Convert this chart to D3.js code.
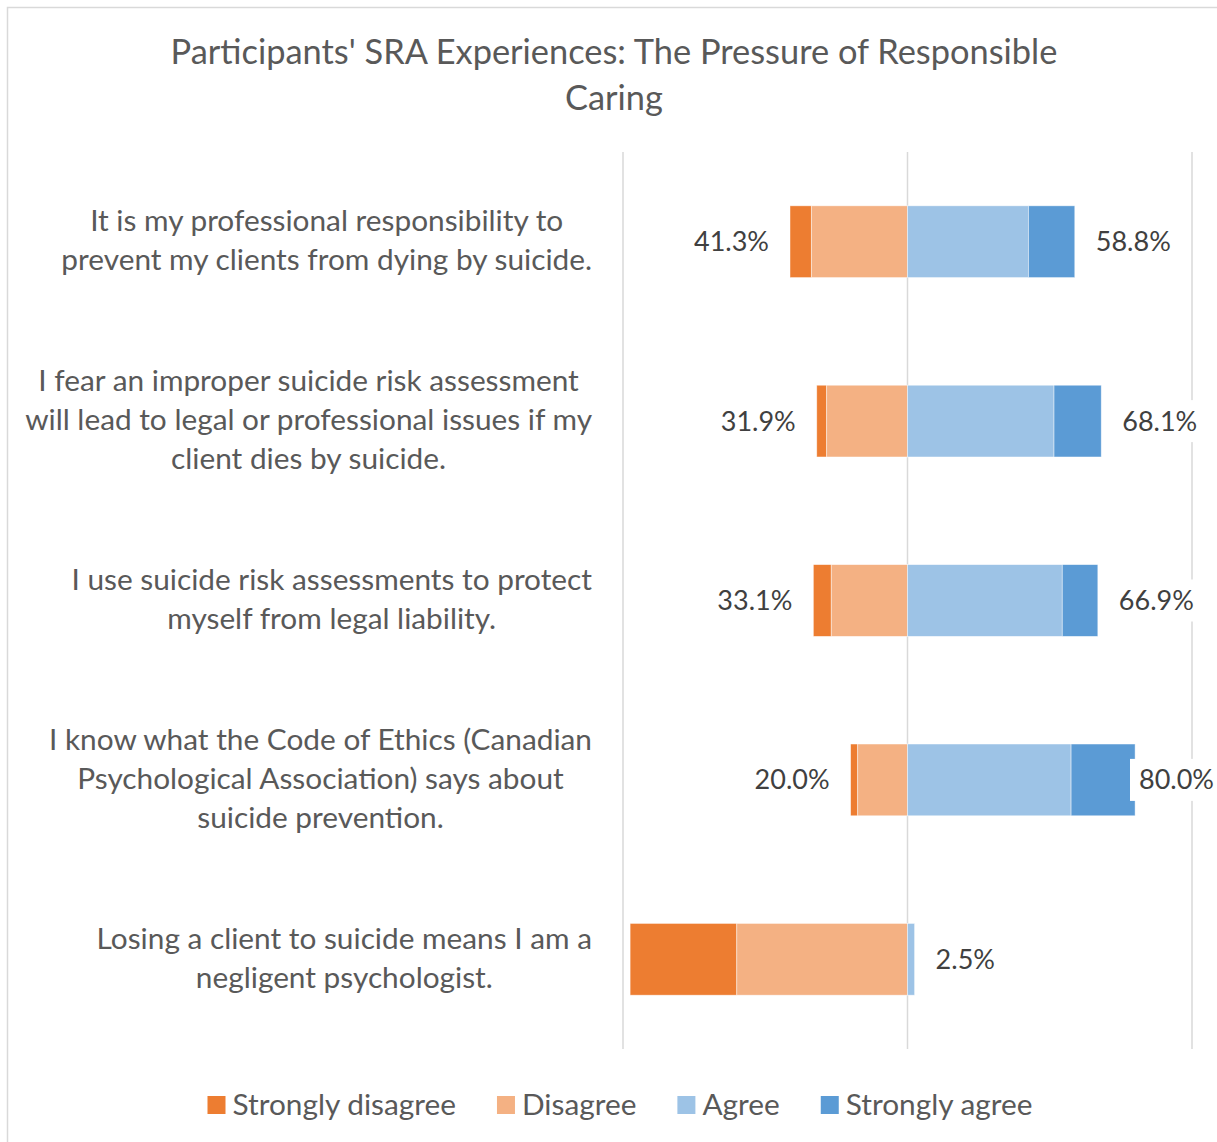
<!DOCTYPE html>
<html>
<head>
<meta charset="utf-8">
<script src="https://cdn.jsdelivr.net/npm/d3@7"></script>
<style>
  html, body { margin: 0; padding: 0; background: #fff; }
  svg { display: block; }
  text { font-family: Lato, "Open Sans", sans-serif; }
</style>
</head>
<body>
<svg id="chart" width="1217" height="1142"></svg>
<script>
// Survey statements (line breaks as they wrap on the chart)
const categories = [
  "It is my professional responsibility to\nprevent my clients from dying by suicide.",
  "I fear an improper suicide risk assessment\nwill lead to legal or professional issues if my\nclient dies by suicide.",
  "I use suicide risk assessments to protect\nmyself from legal liability.",
  "I know what the Code of Ethics (Canadian\nPsychological Association) says about\nsuicide prevention.",
  "Losing a client to suicide means I am a\nnegligent psychologist."
];

// Percent of participants per response
const stronglyDisagree = [7.5, 3.5, 6.3, 2.5, 37.5];
const disagree         = [33.8, 28.4, 26.8, 17.5, 60.0];
const agree            = [42.5, 51.5, 54.4, 57.5, 2.5];
const stronglyAgree    = [16.3, 16.6, 12.5, 22.5, 0.0];

const seriesNames = ["Strongly disagree", "Disagree", "Agree", "Strongly agree"];
const seriesColors = ["#ED7D31", "#F4B183", "#9DC3E6", "#5B9BD5"];

const titleLines = ["Participants' SRA Experiences: The Pressure of Responsible", "Caring"];
const xTicks = [-100, 0, 100];

const svg = d3.select("#chart");
const W = 1217, H = 1142;

// chart frame
svg.append("rect")
  .attr("x", 7.5).attr("y", 7.5)
  .attr("width", W + 20).attr("height", H + 20)
  .attr("fill", "#fff").attr("stroke", "#d9d9d9").attr("stroke-width", 1.5);

// title
svg.append("g").selectAll("text").data(titleLines).join("text")
  .attr("x", 614).attr("y", (d, i) => 64 + i * 46)
  .attr("text-anchor", "middle")
  .attr("font-size", 34.4).attr("fill", "#595959")
  .text(d => d);

const plot = { left: 623, right: 1192, top: 152, bottom: 1049 };

const x = d3.scaleLinear().domain([-100, 100]).range([plot.left, plot.right]);
const y = d3.scaleBand().domain(d3.range(categories.length))
  .range([plot.top, plot.bottom]).paddingInner(0.6).paddingOuter(0.3);

// vertical gridlines
svg.append("g").selectAll("line").data(xTicks).join("line")
  .attr("x1", d => x(d)).attr("x2", d => x(d))
  .attr("y1", plot.top).attr("y2", plot.bottom)
  .attr("stroke", "#d9d9d9").attr("stroke-width", 1.5);

// build diverging segments: disagree side extends left from zero
const rows = categories.map((c, i) => {
  const sd = stronglyDisagree[i], d = disagree[i], a = agree[i], sa = stronglyAgree[i];
  return {
    i,
    segs: [
      { s: 0, x0: -(sd + d), x1: -d },
      { s: 1, x0: -d, x1: 0 },
      { s: 2, x0: 0, x1: a },
      { s: 3, x0: a, x1: a + sa }
    ],
    neg: sd + d,
    pos: a + sa
  };
});

const barG = svg.append("g");
rows.forEach(r => {
  barG.append("g").selectAll("rect").data(r.segs.filter(s => s.x1 > s.x0)).join("rect")
    .attr("x", s => x(s.x0))
    .attr("width", s => x(s.x1) - x(s.x0))
    .attr("y", y(r.i))
    .attr("height", y.bandwidth())
    .attr("fill", s => seriesColors[s.s])
    .attr("stroke", "#fff").attr("stroke-width", 0.75).attr("stroke-opacity", 0.6);
});

// category labels: block right-aligned, lines centred within block
const labelRight = 592, lineH = 39, catSize = 29.8;
const catG = svg.append("g");
categories.forEach((c, i) => {
  const lines = c.split("\n");
  const g = catG.append("g");
  const texts = g.selectAll("text").data(lines).join("text")
    .attr("font-size", catSize).attr("fill", "#595959")
    .attr("text-anchor", "middle")
    .text(d => d);
  let maxW = 0;
  texts.each(function () { maxW = Math.max(maxW, this.getComputedTextLength()); });
  const cy = y(i) + y.bandwidth() / 2;
  const y0 = cy - (lines.length - 1) * lineH / 2;
  texts.attr("x", labelRight - maxW / 2)
    .attr("y", (d, k) => y0 + k * lineH)
    .attr("dy", "0.3em");
});

// percentage labels at both bar ends
const fmt = v => d3.format(".1f")(v) + "%";
const lblG = svg.append("g");
const gap = 21, lblSize = 27, chartEdge = 1214;
rows.forEach(r => {
  const cy = y(r.i) + y.bandwidth() / 2;
  // left total
  const tL = lblG.append("text")
    .attr("font-size", lblSize).attr("fill", "#404040")
    .attr("text-anchor", "end").attr("dy", "0.35em")
    .attr("x", x(-r.neg) - gap).attr("y", cy)
    .text(fmt(r.neg));
  const wL = tL.node().getComputedTextLength();
  if (x(-r.neg) - gap - wL < plot.left) tL.remove();

  // right total, kept inside the chart area, on a white label box
  if (r.pos > 0) {
    const tR = lblG.append("text")
      .attr("font-size", lblSize).attr("fill", "#404040")
      .attr("dy", "0.35em").attr("y", cy)
      .text(fmt(r.pos));
    const wR = tR.node().getComputedTextLength();
    const xr = Math.min(x(r.pos) + gap, chartEdge - wR);
    tR.attr("x", xr);
    lblG.insert("rect", () => tR.node())
      .attr("x", xr - 9).attr("y", cy - 21)
      .attr("width", wR + 12).attr("height", 42)
      .attr("fill", "#fff");
  }
});

// legend
const legG = svg.append("g").attr("transform", "translate(0,1105)");
const items = legG.selectAll("g").data(seriesNames).join("g");
items.append("rect").attr("x", 0).attr("y", -9).attr("width", 18).attr("height", 18)
  .attr("fill", (d, i) => seriesColors[i]);
items.append("text").attr("x", 25).attr("dy", "0.35em")
  .attr("font-size", 29.8).attr("fill", "#595959").text(d => d);
const widths = [];
items.each(function () {
  const w = 25 + d3.select(this).select("text").node().getComputedTextLength();
  widths.push(w);
});
const legGap = 41;
const total = d3.sum(widths) + legGap * (widths.length - 1);
let cx = 620 - total / 2;
items.attr("transform", (d, i) => {
  const t = `translate(${cx},0)`;
  cx += widths[i] + legGap;
  return t;
});
</script>
</body>
</html>
